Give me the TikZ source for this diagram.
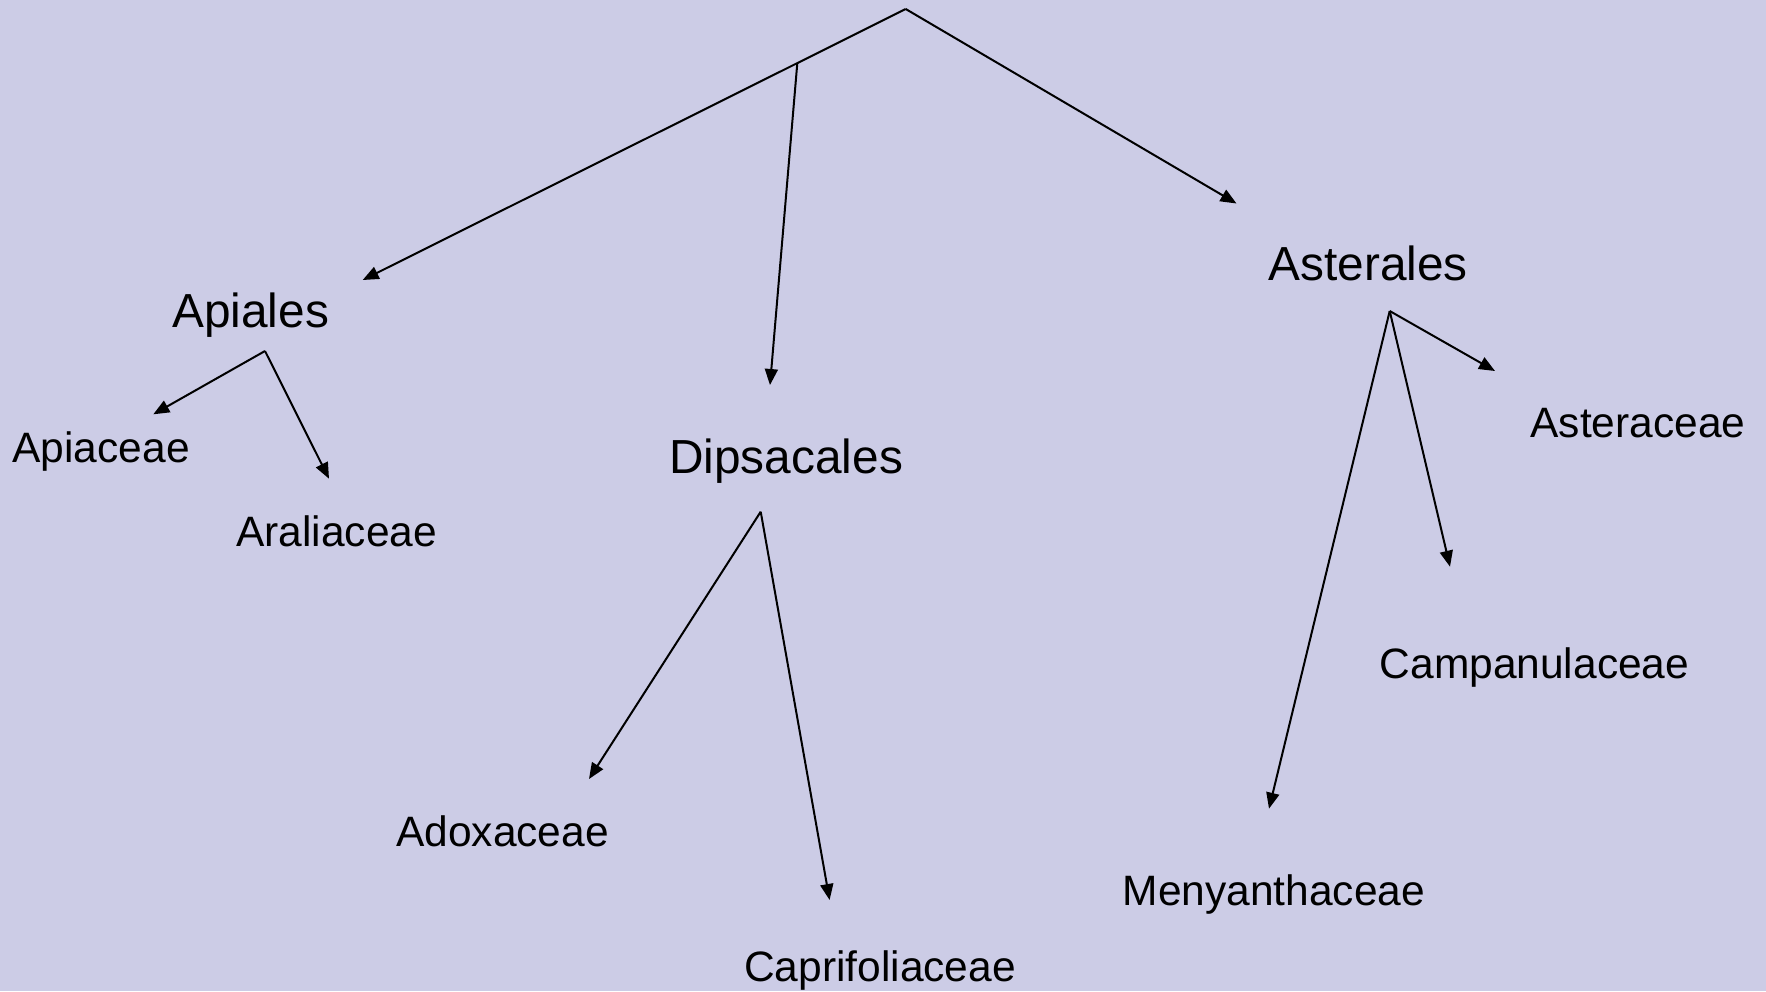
\documentclass[tikz,border=0pt]{standalone}
\usepackage{fontspec}
\setmainfont{Liberation Sans}
\usetikzlibrary{arrows.meta}
\definecolor{bgcol}{RGB}{204,204,230}
\tikzset{
  big/.style={anchor=base west,inner sep=0pt,font=\fontsize{47.8}{50}\selectfont},
  small/.style={anchor=base west,inner sep=0pt,font=\fontsize{42.5}{45}\selectfont},
  conn/.style={line width=2pt,line join=miter},
  arr/.style={conn,-{Triangle[length=16pt,width=13pt]}}
}
\begin{document}
\begin{tikzpicture}[x=1pt,y=-1pt]
\fill[bgcol] (0,0) rectangle (1766,991);
\useasboundingbox (0,0) rectangle (1766,991);
% labels
\node[big] (apiales) at (172,327) {Apiales};
\node[big] (dipsacales) at (669,473.3) {Dipsacales};
\node[big] (asterales) at (1268.3,280.7) {Asterales};
\node[small] (apiaceae) at (12.3,462.3) {Apiaceae};
\node[small] (araliaceae) at (236,546) {Araliaceae};
\node[small] (adoxaceae) at (396,846) {Adoxaceae};
\node[small] (caprifoliaceae) at (744,981.7) {Caprifoliaceae};
\node[small] (asteraceae) at (1530.2,437.3) {Asteraceae};
\node[small] (campanulaceae) at (1379.5,678.3) {Campanulaceae};
\node[small] (menyanthaceae) at (1122.5,905.7) {Menyanthaceae};
% coordinates
\coordinate (apex) at (905.7,9);
\coordinate (split) at (797.3,63.1);
\coordinate (tApiales) at (362.7,280);
\coordinate (tDipsacales) at (770,385);
\coordinate (tAsterales) at (1236.5,203.5);
\coordinate (fApiales) at (265,351);
\coordinate (tApiaceae) at (153.3,414.3);
\coordinate (tAraliaceae) at (329,478.7);
\coordinate (fDipsacales) at (760.7,511.7);
\coordinate (tAdoxaceae) at (589,779);
\coordinate (tCaprifoliaceae) at (829.6,900);
\coordinate (fAsterales) at (1389.7,311);
\coordinate (tAsteraceae) at (1495,371);
\coordinate (tCampanulaceae) at (1450,566.7);
\coordinate (tMenyanthaceae) at (1269,808.7);
% connectors
\draw[arr] (apex) -- (tAsterales);
\draw[conn] (apex) -- (split);
\draw[arr] (split) -- (tApiales);
\draw[arr] (split) -- (tDipsacales);
\draw[arr] (fApiales) -- (tApiaceae);
\draw[arr] (fApiales) -- (tAraliaceae);
\draw[arr] (fDipsacales) -- (tAdoxaceae);
\draw[arr] (fDipsacales) -- (tCaprifoliaceae);
\draw[arr] (fAsterales) -- (tAsteraceae);
\draw[arr] (fAsterales) -- (tCampanulaceae);
\draw[arr] (fAsterales) -- (tMenyanthaceae);
\end{tikzpicture}
\end{document}
